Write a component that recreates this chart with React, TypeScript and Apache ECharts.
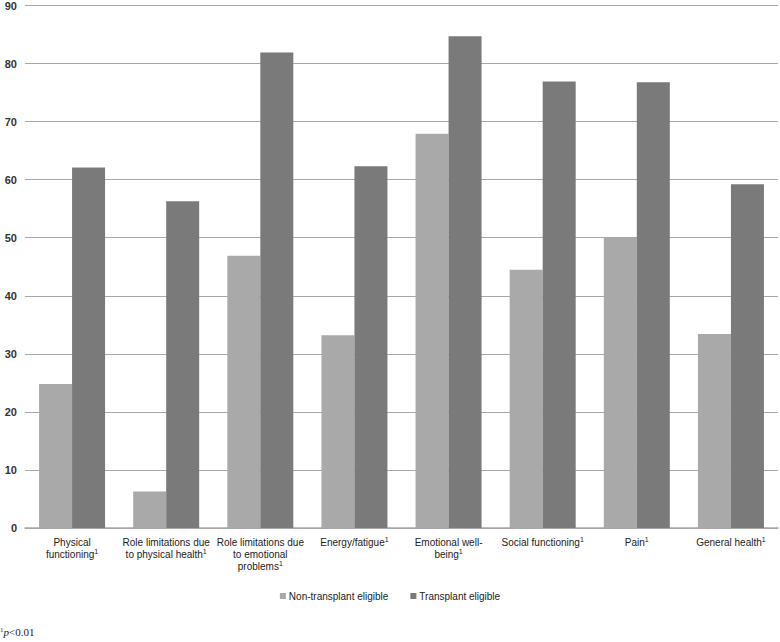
import React, { useEffect, useRef } from "react";
import * as echarts from "echarts";

const categories = [
  "Physical\nfunctioning",
  "Role limitations due\nto physical health",
  "Role limitations due\nto emotional\nproblems",
  "Energy/fatigue",
  "Emotional well-\nbeing",
  "Social functioning",
  "Pain",
  "General health",
];
const nonTransplant = [24.8, 6.3, 46.9, 33.2, 67.9, 44.5, 50.0, 33.4];
const transplant = [62.1, 56.3, 81.9, 62.3, 84.7, 76.9, 76.8, 59.2];
const seriesNames = ["Non-transplant eligible", "Transplant eligible"];
const yTicks = { min: 0, max: 90, interval: 10 };

function formatCat(v: string): string {
  const lines = v.split("\n");
  return lines
    .map((l, i) => (i === lines.length - 1 ? `{a|${l}}{s|1}` : `{a|${l}}`))
    .join("\n");
}

export default function App() {
  const ref = useRef<HTMLDivElement>(null);
  useEffect(() => {
    document.body.style.margin = "0";
    const chart = echarts.init(ref.current!, null, { renderer: "svg" });
    chart.setOption({
      animation: false,
      backgroundColor: "#ffffff",
      textStyle: { fontFamily: "Liberation Sans, Arial, sans-serif" },
      grid: { left: 25, right: 2, top: 5, bottom: 114, containLabel: false },
      legend: {
        data: seriesNames,
        bottom: 36,
        left: "center",
        itemWidth: 6,
        itemHeight: 6,
        itemGap: 22,
        icon: "rect",
        textStyle: { fontSize: 10, color: "#222", padding: [0, 0, 0, -2] },
      },
      xAxis: {
        type: "category",
        data: categories,
        axisLine: { lineStyle: { color: "#a8a8a8", width: 1.5 } },
        axisTick: { show: false },
        axisLabel: {
          interval: 0,
          margin: 8,
          color: "#222",
          align: "center",
          formatter: formatCat,
          rich: {
            a: { fontSize: 10, color: "#222", lineHeight: 12, fontFamily: "Liberation Sans, Arial, sans-serif" },
            s: { fontSize: 7, color: "#222", verticalAlign: "top", lineHeight: 12, padding: [0, 0, 6, 0], fontFamily: "Liberation Sans, Arial, sans-serif" },
          },
        },
      },
      yAxis: {
        type: "value",
        min: yTicks.min,
        max: yTicks.max,
        interval: yTicks.interval,
        axisLine: { show: false },
        axisTick: { show: false },
        axisLabel: { fontSize: 11, color: "#333", margin: 8, fontWeight: "bold" },
        splitLine: { lineStyle: { color: "#a8a8a8", width: 1.2 } },
      },
      series: [
        {
          name: seriesNames[0],
          type: "bar",
          data: nonTransplant,
          barWidth: 33,
          barGap: "0%",
          itemStyle: { color: "#a9a9a9" },
        },
        {
          name: seriesNames[1],
          type: "bar",
          data: transplant,
          barWidth: 33,
          barGap: "0%",
          itemStyle: { color: "#7a7a7a" },
        },
      ],
      graphic: [
        {
          type: "text",
          left: 0,
          top: 626,
          style: {
            text: "{s|1}{p|p}{t|<0.01}",
            rich: {
              s: { fontSize: 7, fontFamily: "Liberation Serif, serif", fill: "#222", verticalAlign: "top", padding: [0, 0, 5, 0] },
              p: { fontSize: 11, fontFamily: "Liberation Serif, serif", fontStyle: "italic", fill: "#222" },
              t: { fontSize: 11, fontFamily: "Liberation Serif, serif", fill: "#222" },
            },
          },
        },
      ],
    });
    return () => chart.dispose();
  }, []);
  return <div ref={ref} style={{ position: "fixed", left: 0, top: 0, width: 780, height: 642 }} />;
}
